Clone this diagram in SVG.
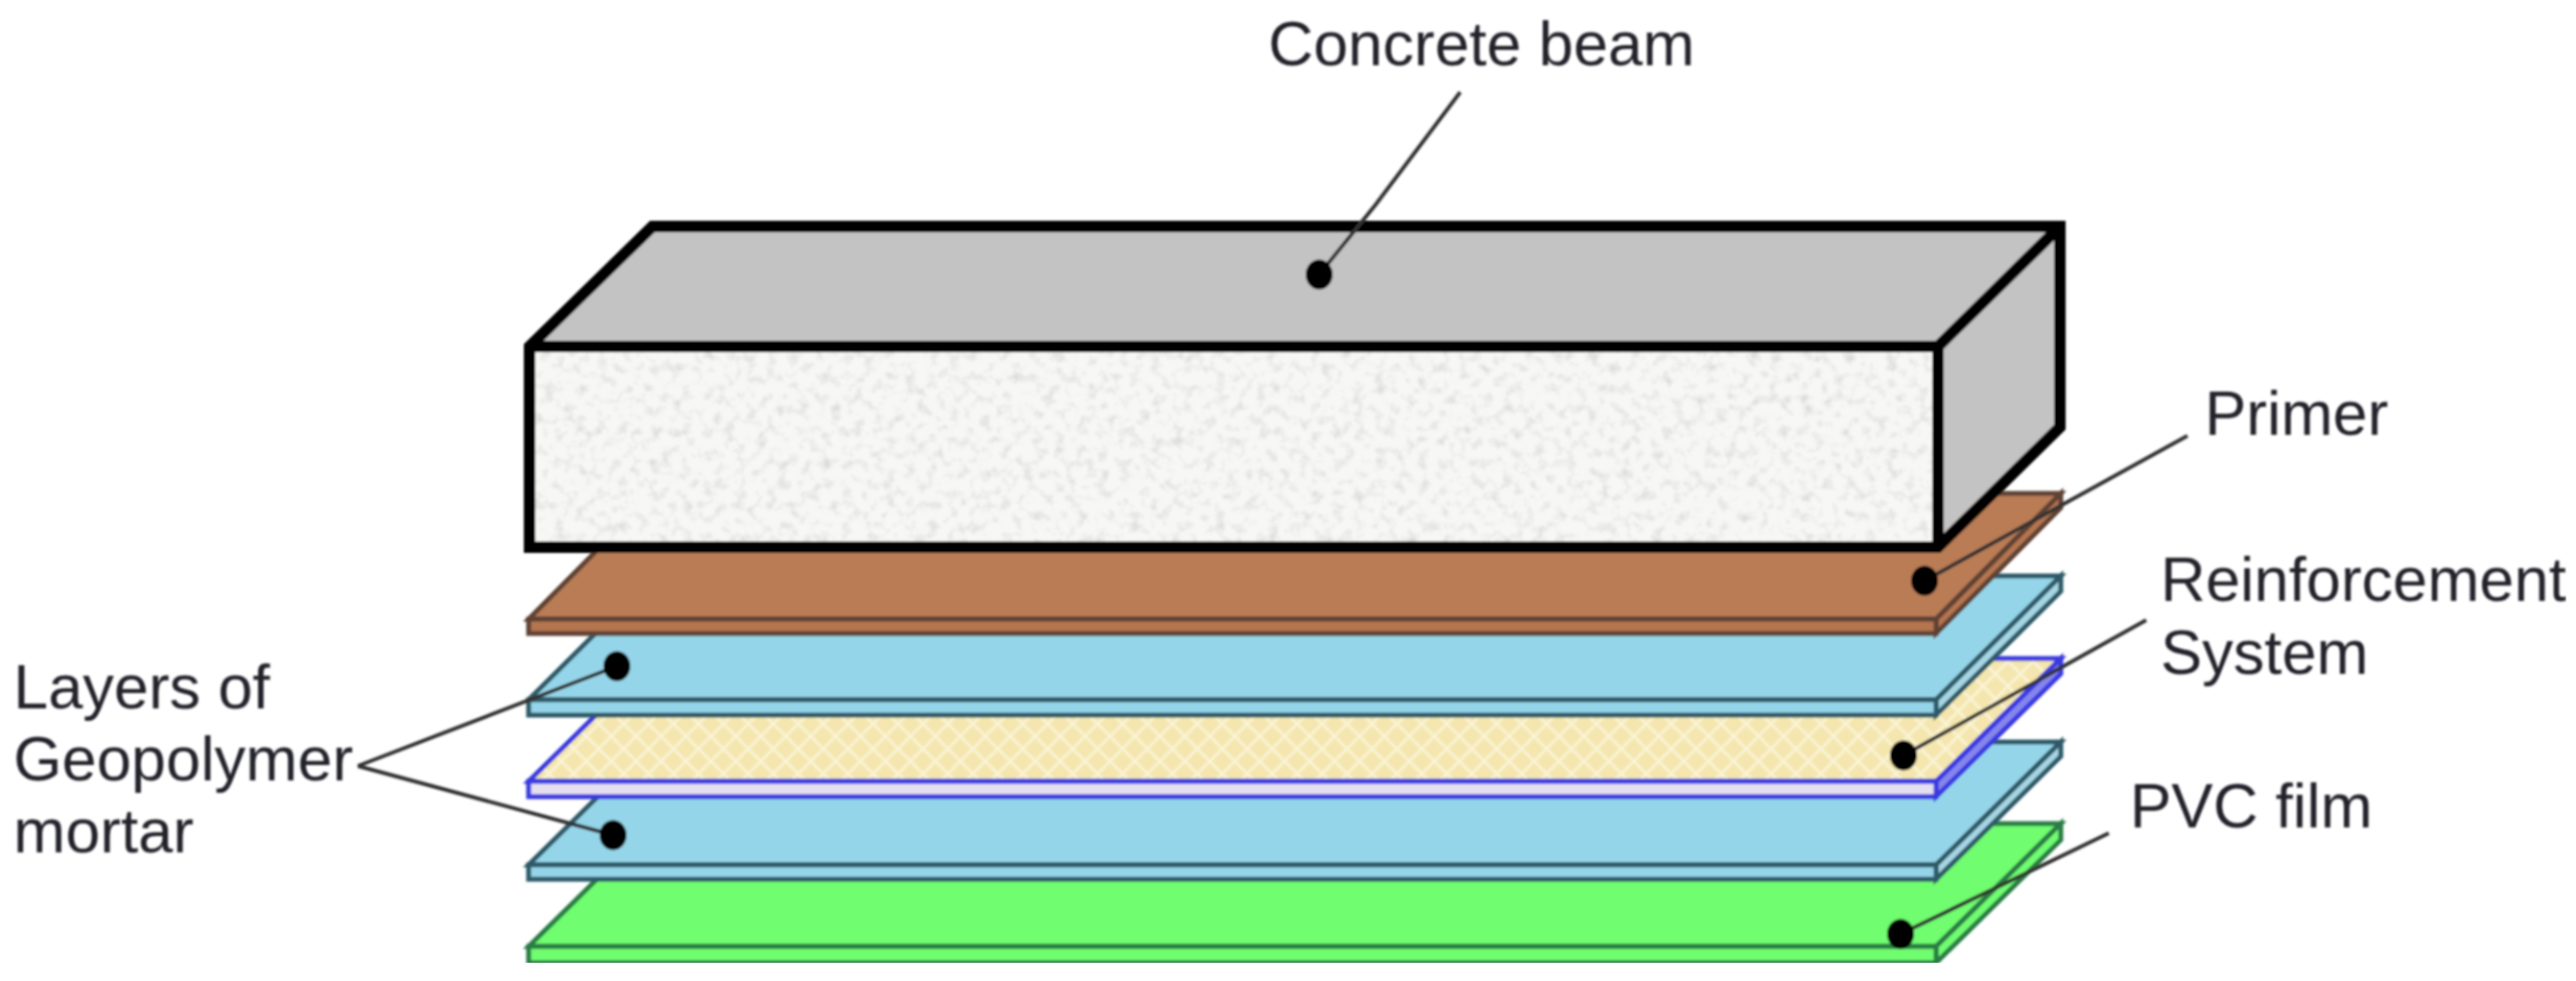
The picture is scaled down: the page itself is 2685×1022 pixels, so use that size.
<svg xmlns="http://www.w3.org/2000/svg" width="2685" height="1022" viewBox="0 0 2685 1022">
<style>
text{font-family:"Liberation Sans",Arial,sans-serif;font-size:65px;fill:#22222a}
.edge{stroke-width:5;stroke-linejoin:miter}
.brown{fill:#b97b55;stroke:#5e4234}.brown.f{fill:#b5754f}
.blue{fill:#95d5e9;stroke:#2f5a68}.blue.s{fill:#a6d6e4}
.yel{fill:url(#mesh);stroke:#3a3ae0}.yel.f{fill:#e6dff0}.yel.s{fill:#8585ee}
.green{fill:#70fd70;stroke:#2a7d45}
.leader{fill:none;stroke:#333;stroke-width:4;marker-start:url(#dot)}
.beam{stroke:#050505;stroke-width:12;stroke-linejoin:miter;fill:none}
</style>
<defs>
<pattern id="mesh" width="26" height="26" patternUnits="userSpaceOnUse">
<rect width="26" height="26" fill="#f4e6ae"/>
<path d="M0 0L26 26M26 0L0 26" stroke="#faf3d4" stroke-width="3"/>
</pattern>
<marker id="dot" markerUnits="userSpaceOnUse" markerWidth="32" markerHeight="34" refX="16" refY="17" orient="0">
<ellipse cx="16" cy="17" rx="14" ry="15.5" fill="#050505"/>
</marker>
<filter id="speckle" x="0" y="0" width="1" height="1">
<feTurbulence type="fractalNoise" baseFrequency="0.09" numOctaves="3" seed="7" result="n"/>
<feColorMatrix in="n" type="matrix" values="0 0 0 0 .72 0 0 0 0 .72 0 0 0 0 .72 2.6 0 0 0 -1.25" result="g"/>
<feComposite in="g" in2="SourceGraphic" operator="atop" result="c"/>
<feMerge><feMergeNode in="SourceGraphic"/><feMergeNode in="c"/></feMerge>
</filter>
<filter id="soft" x="0" y="0" width="1" height="1"><feGaussianBlur stdDeviation="1"/></filter>
</defs>
<rect width="2685" height="1022" fill="#fff"/>
<g filter="url(#soft)">
<g id="pvc-film" class="edge">
<polygon class="green" points="681,858 2148,858 2018,986 551,986"/>
<polygon class="green" points="2018,986 2148,858 2148,875 2018,1003"/>
<rect class="green" x="551" y="986" width="1467" height="17"/>
</g>
<g id="mortar-lower" class="edge">
<polygon class="blue" points="681,773 2148,773 2018,901 551,901"/>
<polygon class="blue s" points="2018,901 2148,773 2148,788 2018,916"/>
<rect class="blue" x="551" y="901" width="1467" height="15"/>
</g>
<g id="reinforcement" class="edge">
<polygon class="yel" points="681,686 2148,686 2018,814 551,814"/>
<polygon class="yel s" points="2018,814 2148,686 2148,702 2018,830"/>
<rect class="yel f" x="551" y="814" width="1467" height="16"/>
</g>
<g id="mortar-upper" class="edge">
<polygon class="blue" points="681,600 2148,600 2018,729 551,729"/>
<polygon class="blue s" points="2018,729 2148,600 2148,616 2018,745"/>
<rect class="blue" x="551" y="729" width="1467" height="16"/>
</g>
<g id="primer" class="edge">
<polygon class="brown" points="681,514 2148,514 2018,645 551,645"/>
<polygon class="brown f" points="2018,645 2148,514 2148,529 2018,660"/>
<rect class="brown f" x="551" y="645" width="1467" height="15"/>
</g>
<g id="concrete-beam">
<polygon fill="#c3c3c3" points="680,236 2147,236 2147,445 2020,570 552,361"/>
<rect x="552" y="361" width="1468" height="209" fill="#f7f7f5" filter="url(#speckle)"/>
<polygon class="beam" points="680,236 2147,236 2147,445 2020,570 552,570 552,361"/>
<path class="beam" d="M552 361H2020V570M2020 361L2147 236"/>
</g>
<g id="connectors">
<path class="leader" d="M1375 286L1434 213L1522 96"/>
<path class="leader" d="M2006 605L2280 454"/>
<path class="leader" d="M1984 787L2237 646"/>
<path class="leader" d="M1981 973L2198 868"/>
<path class="leader" d="M643 694L373 798"/>
<path class="leader" d="M639 870L373 798"/>
</g>
<g id="labels">
<text x="1322" y="68">Concrete beam</text>
<text x="2298" y="453">Primer</text>
<text x="2252" y="626">Reinforcement</text>
<text x="2252" y="702">System</text>
<text x="2220" y="862">PVC film</text>
<text x="14" y="738">Layers of</text>
<text x="14" y="813">Geopolymer</text>
<text x="14" y="888">mortar</text>
</g>
</g>
</svg>
